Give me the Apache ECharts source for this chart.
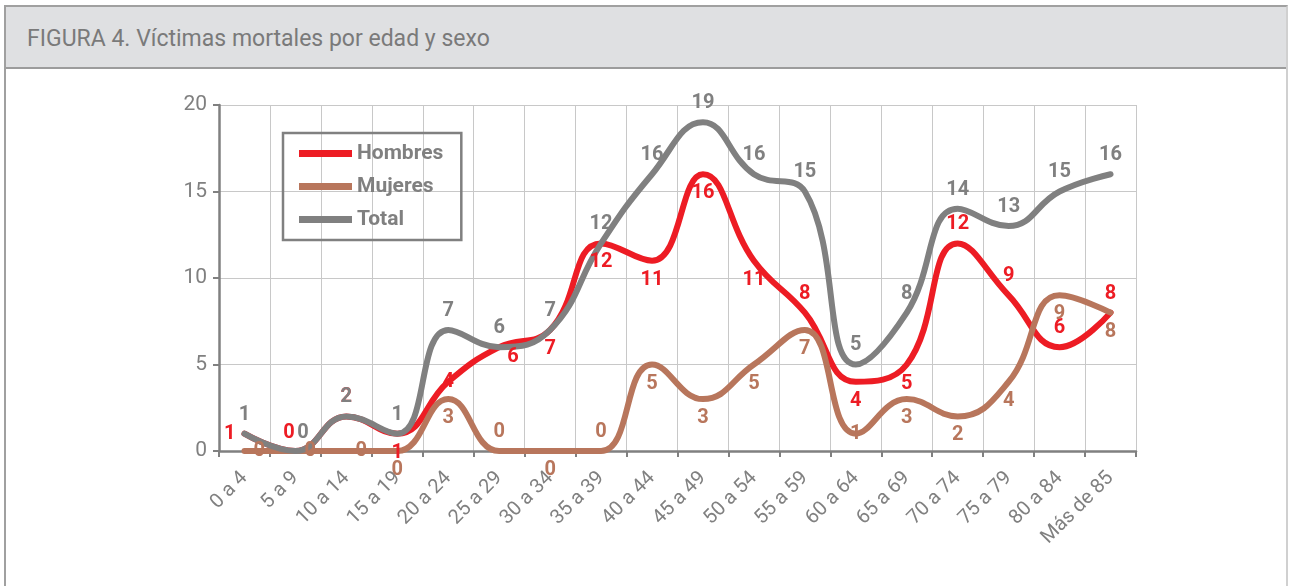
<!DOCTYPE html>
<html>
<head>
<meta charset="utf-8">
<script src="https://cdn.jsdelivr.net/npm/echarts@6/dist/echarts.min.js"></script>
<style>
  html, body { margin: 0; padding: 0; background: #fff; }
  .frame {
    position: absolute; left: 4px; top: 5px; width: 1284px; height: 600px;
    border-left: 2px solid #a0a0a0; border-right: 2px solid #d0d0d0;
    border-top: 2px solid #a0a0a0; box-sizing: border-box;
  }
  .head {
    position: absolute; left: 0; top: 0; right: 0; height: 60px;
    background: #dfe0e2; border-bottom: 2px solid #9c9c9c;
    font-family: Roboto, sans-serif; font-size: 23px; color: #7a7a7a;
    line-height: 64px; padding-left: 21px;
  }
  #dom { position: absolute; left: 0; top: 0; width: 1290px; height: 586px; }
</style>
</head>
<body>
<div class="frame"><div class="head">FIGURA 4. Víctimas mortales por edad y sexo</div></div>
<div id="dom"></div>
<script>
  let categories = ['0 a 4', '5 a 9', '10 a 14', '15 a 19', '20 a 24', '25 a 29', '30 a 34', '35 a 39',
    '40 a 44', '45 a 49', '50 a 54', '55 a 59', '60 a 64', '65 a 69', '70 a 74', '75 a 79', '80 a 84', 'Más de 85']
  let hombres = [1, 0, 2, 1, 4, 6, 7, 12, 11, 16, 11, 8, 4, 5, 12, 9, 6, 8]
  let mujeres = [0, 0, 0, 0, 3, 0, 0, 0, 5, 3, 5, 7, 1, 3, 2, 4, 9, 8]
  let total = [1, 0, 2, 1, 7, 6, 7, 12, 16, 19, 16, 15, 5, 8, 14, 13, 15, 16]
  let yTicks = [0, 5, 10, 15, 20]

  // label placement tweaks (index -> position), like the hand-moved labels of the original
  let hombresPos = { 0: 'left', 1: [-12, -28], 2: 'top', 4: 'inside', 5: [8, 0], 11: 'top', 14: 'top', 15: 'top', 16: 'top', 17: 'top' }
  let mujeresPos = { 0: 'right', 1: 'right', 2: 'right', 5: 'top', 7: 'top', 12: 'inside' }
  let totalPos = { 1: [2, -28] }

  let gray = '#808080'
  let red = '#ed1c24'
  let brown = '#b8765c'
  let font = 'Roboto, sans-serif'

  function withPos (values, pos) {
    return values.map((v, i) => pos[i] ? { value: v, label: { position: pos[i] } } : v)
  }

  function lineSeries (name, data, color, position) {
    return {
      name: name,
      type: 'line',
      smooth: 0.45,
      symbol: 'circle',
      symbolSize: 0.1,
      showSymbol: true,
      lineStyle: { color: color, width: 6, cap: 'round' },
      itemStyle: { color: color },
      label: {
        show: true,
        position: position,
        distance: 9,
        color: color,
        fontFamily: font,
        fontWeight: 'bold',
        fontSize: 20
      },
      data: data
    }
  }

  let option = {
    animation: false,
    grid: { left: 219, right: 154, top: 105, bottom: 135 },
    legend: {
      orient: 'vertical',
      left: 283,
      top: 133,
      icon: 'rect',
      itemWidth: 53,
      itemHeight: 7,
      itemGap: 12,
      padding: [10, 18, 10, 16],
      borderColor: gray,
      borderWidth: 2.5,
      textStyle: { color: gray, fontFamily: font, fontWeight: 'bold', fontSize: 21 },
      data: ['Hombres', 'Mujeres', 'Total']
    },
    xAxis: {
      type: 'category',
      data: categories,
      boundaryGap: true,
      axisLine: { lineStyle: { color: gray, width: 2.5 } },
      axisTick: { show: true, length: 6, lineStyle: { color: gray, width: 2 } },
      splitLine: { show: true, interval: 0, lineStyle: { color: '#c8c8c8', width: 1 } },
      axisLabel: { interval: 0, rotate: 45, color: gray, fontFamily: font, fontSize: 20, margin: 24 }
    },
    yAxis: {
      type: 'value',
      min: yTicks[0],
      max: yTicks[yTicks.length - 1],
      interval: 5,
      axisLine: { show: true, lineStyle: { color: gray, width: 2.5 } },
      axisTick: { show: true, length: 6, lineStyle: { color: gray, width: 2 } },
      splitLine: { lineStyle: { color: '#c8c8c8', width: 1 } },
      axisLabel: { color: gray, fontFamily: font, fontSize: 21, margin: 12 }
    },
    series: [
      lineSeries('Hombres', withPos(hombres, hombresPos), red, 'bottom'),
      lineSeries('Mujeres', withPos(mujeres, mujeresPos), brown, 'bottom'),
      lineSeries('Total', withPos(total, totalPos), gray, 'top')
    ]
  }

  let dom = echarts.init(document.getElementById('dom'))
  dom.setOption(option)
  window.addEventListener('resize', dom.resize)
</script>
</body>
</html>
